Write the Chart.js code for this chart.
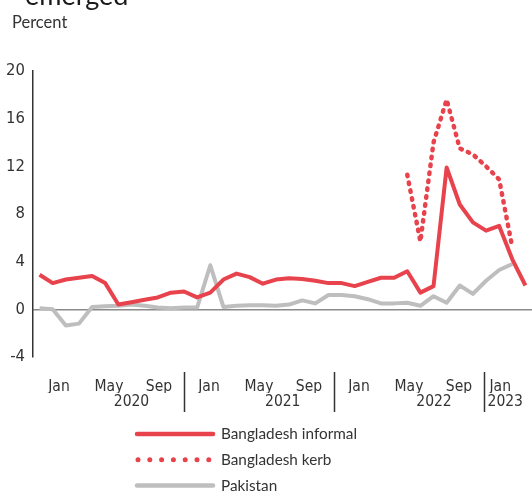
<!DOCTYPE html>
<html>
<head>
<meta charset="utf-8">
<script src="https://cdn.jsdelivr.net/npm/chart.js@4/dist/chart.umd.min.js"></script>
<style>
  body { margin: 0; background: #fff; }
  #wrap { position: relative; width: 532px; height: 491px; overflow: hidden; }
  #cut-title { position: absolute; left: 25px; top: -22px; font: 27px Lato, sans-serif; color: #1a1a1a; }
  #unit { position: absolute; left: 12px; top: 12px; font: 16.5px Lato, sans-serif; color: #333; }
  canvas { position: absolute; left: 0; top: 0; }
</style>
</head>
<body>
<div id="wrap">
  <canvas id="myChart" width="532" height="491"></canvas>
  <div id="cut-title">emerged</div>
  <div id="unit">Percent</div>
</div>
<script>
/////////////////////////////
// Data
/////////////////////////////

const months = [
  'Dec 2019',
  'Jan 2020', 'Feb 2020', 'Mar 2020', 'Apr 2020', 'May 2020', 'Jun 2020',
  'Jul 2020', 'Aug 2020', 'Sep 2020', 'Oct 2020', 'Nov 2020', 'Dec 2020',
  'Jan 2021', 'Feb 2021', 'Mar 2021', 'Apr 2021', 'May 2021', 'Jun 2021',
  'Jul 2021', 'Aug 2021', 'Sep 2021', 'Oct 2021', 'Nov 2021', 'Dec 2021',
  'Jan 2022', 'Feb 2022', 'Mar 2022', 'Apr 2022', 'May 2022', 'Jun 2022',
  'Jul 2022', 'Aug 2022', 'Sep 2022', 'Oct 2022', 'Nov 2022', 'Dec 2022',
  'Jan 2023'
];

const bangladeshInformal = [
  2.9, 2.2, 2.5, 2.65, 2.8, 2.2, 0.4, 0.6, 0.8, 1.0, 1.4, 1.5, 1.0,
  1.4, 2.5, 3.0, 2.7, 2.15, 2.5, 2.6, 2.55, 2.4, 2.2, 2.2, 1.95,
  2.3, 2.65, 2.65, 3.2, 1.4, 1.95, 11.9, 8.8, 7.3, 6.6, 7.0, 4.2,
  2.0
];

const bangladeshKerb = [
  null, null, null, null, null, null, null, null, null, null, null, null, null,
  null, null, null, null, null, null, null, null, null, null, null, null,
  null, null, null, 11.3, 5.7, 14.0, 17.6, 13.5, 13.0, 12.0, 10.9, 5.2,
  null
];

const pakistan = [
  0.1, 0.0, -1.35, -1.2, 0.2, 0.25, 0.3, 0.4, 0.3, 0.15, 0.1, 0.15, 0.15,
  3.7, 0.2, 0.3, 0.35, 0.35, 0.3, 0.4, 0.75, 0.5, 1.2, 1.2, 1.1,
  0.85, 0.5, 0.5, 0.55, 0.3, 1.1, 0.55, 2.0, 1.3, 2.4, 3.3, 3.8,
  null
];

const seriesNames = ['Bangladesh informal', 'Bangladesh kerb', 'Pakistan'];

const monthTickLabels = ['Jan', 'May', 'Sep', 'Jan', 'May', 'Sep', 'Jan', 'May', 'Sep', 'Jan'];
const yearTickLabels = ['2020', '2021', '2022', '2023'];
const yTicks = [-4, 0, 4, 8, 12, 16, 20];

/////////////////////////////
// Layout of the label axes (months from Jan 2020)
/////////////////////////////

const monthTickAt = [0, 4, 8, 12, 16, 20, 24, 28, 32, 35.3];
const yearTickAt = [5.8, 17.9, 30, 35.7];
const yearBreakAt = [10, 22, 34];

const RED = '#e8424c';
const GREY = '#bebebe';
const tickFont = { family: "'Liberation Sans Narrow', 'DejaVu Sans Condensed', Roboto, sans-serif", size: 15.5 };

// year separators + legend
const extras = {
  id: 'extras',
  afterDraw(chart) {
    const c = chart.ctx;
    const xm = chart.scales.xm;

    c.save();
    c.strokeStyle = '#333';
    c.lineWidth = 1.5;
    yearBreakAt.forEach(v => {
      const px = Math.round(xm.getPixelForValue(v)) + 0.5;
      c.beginPath();
      c.moveTo(px, 372);
      c.lineTo(px, 412);
      c.stroke();
    });

    // legend
    const legendDash = [[], [0, 11.8], []];
    const legendWidth = [4.5, 5, 4.5];
    chart.data.datasets.forEach((ds, i) => {
      const y = 434 + i * 25.8;
      c.beginPath();
      c.strokeStyle = ds.borderColor;
      c.lineWidth = legendWidth[i];
      c.lineCap = 'round';
      c.setLineDash(legendDash[i]);
      c.moveTo(i === 1 ? 138 : 137, y);
      c.lineTo(213, y);
      c.stroke();
      c.setLineDash([]);
      c.fillStyle = '#333';
      c.font = '15.3px Lato, sans-serif';
      c.textBaseline = 'middle';
      c.fillText(ds.label, 221, y);
    });
    c.restore();
  }
};

/////////////////////////////
// Chart
/////////////////////////////

const ctx = document.getElementById('myChart').getContext('2d');
const myChart = new Chart(ctx, {
  type: 'line',
  data: {
    labels: months,
    datasets: [
      {
        label: seriesNames[0],
        data: bangladeshInformal,
        borderColor: RED,
        borderWidth: 4,
        borderJoinStyle: 'round'
      },
      {
        label: seriesNames[1],
        data: bangladeshKerb,
        borderColor: RED,
        borderWidth: 4.5,
        borderDash: [1.5, 6.5],
        borderCapStyle: 'round'
      },
      {
        label: seriesNames[2],
        data: pakistan,
        borderColor: GREY,
        borderWidth: 4,
        borderJoinStyle: 'round'
      }
    ]
  },
  options: {
    responsive: false,
    animation: false,
    devicePixelRatio: 1,
    spanGaps: false,
    elements: {
      point: { radius: 0 },
      line: { tension: 0 }
    },
    layout: { padding: { top: 71, right: 0, bottom: 79, left: 0 } },
    plugins: {
      legend: { display: false },
      tooltip: { enabled: false }
    },
    scales: {
      x: {
        type: 'category',
        offset: true,
        display: false
      },
      xm: {
        type: 'linear',
        position: 'bottom',
        weight: 1,
        min: -2.08,
        max: 37.84,
        grid: { display: false, drawTicks: false },
        border: { display: false },
        afterBuildTicks: s => { s.ticks = monthTickAt.map(v => ({ value: v })); },
        afterFit: s => { s.height = 36; },
        ticks: {
          autoSkip: false,
          maxRotation: 0,
          padding: 21,
          color: '#333',
          font: tickFont,
          callback: (v, i) => monthTickLabels[i]
        }
      },
      xy: {
        type: 'linear',
        position: 'bottom',
        weight: 2,
        min: -2.08,
        max: 37.84,
        grid: { display: false, drawTicks: false },
        border: { display: false },
        afterBuildTicks: s => { s.ticks = yearTickAt.map(v => ({ value: v })); },
        afterFit: s => { s.height = 19; },
        ticks: {
          autoSkip: false,
          maxRotation: 0,
          padding: 0,
          color: '#333',
          font: tickFont,
          callback: (v, i) => yearTickLabels[i]
        }
      },
      y: {
        min: -4,
        max: 20,
        afterBuildTicks: s => { s.ticks = yTicks.map(v => ({ value: v })); },
        afterFit: s => { s.width = 33; },
        border: { display: true, color: '#333', width: 1.5 },
        grid: {
          drawTicks: false,
          lineWidth: 1.5,
          color: c => (c.tick && c.tick.value === 0 ? '#8a8a8a' : 'rgba(0,0,0,0)')
        },
        ticks: {
          padding: 8,
          color: '#333',
          font: { family: tickFont.family, size: 16.5 }
        }
      }
    }
  },
  plugins: [extras]
});
</script>
</body>
</html>
